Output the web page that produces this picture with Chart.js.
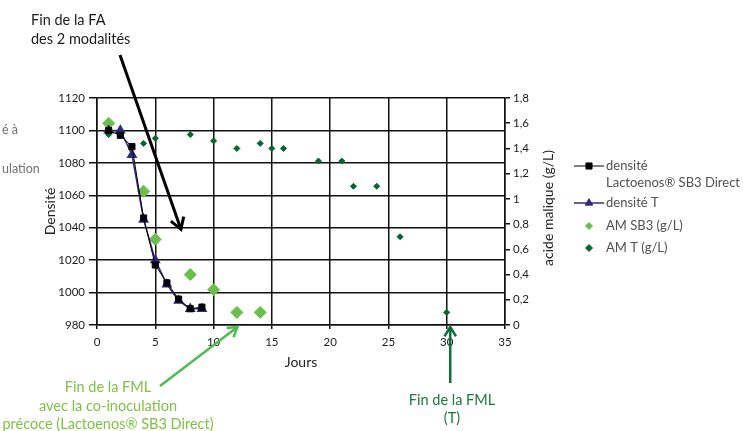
<!DOCTYPE html>
<html><head><meta charset="utf-8">
<script src="https://cdn.jsdelivr.net/npm/chart.js@4.4.0/dist/chart.umd.min.js"></script>
<style>html,body{margin:0;padding:0;background:#fff;overflow:hidden}#wrap{width:743px;height:431px;position:relative}</style>
</head><body><div id="wrap"><canvas id="c"></canvas></div>
<script>
// ---- data ----
const days = [1, 2, 3, 4, 5, 6, 7, 8, 9];
const densiteSB3 = [1100, 1097, 1090, 1046, 1017, 1006, 996, 990, 991];
const densiteT = [1100, 1100, 1085, 1045, 1020, 1005, 995, 990, 990];
const amSB3Days = [1, 4, 5, 8, 10, 12, 14];
const amSB3 = [1.60, 1.06, 0.68, 0.40, 0.28, 0.10, 0.10];
const amTDays = [1, 4, 5, 8, 10, 12, 14, 15, 16, 19, 21, 22, 24, 26, 30];
const amT = [1.51, 1.44, 1.48, 1.51, 1.46, 1.40, 1.44, 1.40, 1.40, 1.30, 1.30, 1.10, 1.10, 0.70, 0.10];
const seriesLabels = ['densité\nLactoenos® SB3 Direct', 'densité T', 'AM SB3 (g/L)', 'AM T (g/L)'];
const xRange = [0, 35, 5];
const densiteRange = [980, 1120, 20];
const maliqueRange = [0, 1.8, 0.2];
const axisTitles = {x: 'Jours', y: 'Densité', y2: 'acide malique (g/L)'};

const F = 'Lato, "Open Sans", sans-serif';
const pts = (xs, ys) => xs.map((x, i) => ({x: x, y: ys[i]}));

function arrow(ctx, x1, y1, x2, y2, color, w, head) {
  const a = Math.atan2(y2 - y1, x2 - x1);
  ctx.save();
  ctx.strokeStyle = color; ctx.lineWidth = w; ctx.lineCap = 'butt'; ctx.lineJoin = 'miter';
  ctx.beginPath(); ctx.moveTo(x1, y1); ctx.lineTo(x2, y2); ctx.stroke();
  ctx.beginPath();
  ctx.moveTo(x2 - head * Math.cos(a - 0.55), y2 - head * Math.sin(a - 0.55));
  ctx.lineTo(x2, y2);
  ctx.lineTo(x2 - head * Math.cos(a + 0.55), y2 - head * Math.sin(a + 0.55));
  ctx.stroke();
  ctx.restore();
}

function marker(ctx, style, x, y, r, color) {
  ctx.save();
  ctx.fillStyle = color; ctx.strokeStyle = color; ctx.lineWidth = 1;
  ctx.beginPath();
  if (style === 'rect') {
    const s = r * Math.SQRT1_2; ctx.rect(x - s, y - s, 2 * s, 2 * s);
  } else if (style === 'triangle') {
    const h = r * 1.5, sd = r * Math.sqrt(3);
    ctx.moveTo(x, y - r); ctx.lineTo(x + sd / 2, y - r + h); ctx.lineTo(x - sd / 2, y - r + h); ctx.closePath();
  } else {
    ctx.moveTo(x, y - r); ctx.lineTo(x + r, y); ctx.lineTo(x, y + r); ctx.lineTo(x - r, y); ctx.closePath();
  }
  ctx.fill(); ctx.stroke();
  ctx.restore();
}

const decorPlugin = {
  id: 'decor',
  afterDraw(chart) {
    const ctx = chart.ctx;
    const ds = chart.data.datasets;
    // legend
    const rows = [166, 203, 226, 248];
    const lx = 589;
    ctx.save();
    ctx.font = '13px ' + F; ctx.textBaseline = 'middle'; ctx.textAlign = 'left';
    ds.forEach((d, i) => {
      const y = rows[i];
      if (d.showLine) {
        ctx.strokeStyle = d.borderColor; ctx.lineWidth = d.borderWidth;
        ctx.beginPath(); ctx.moveTo(574, y); ctx.lineTo(604, y); ctx.stroke();
      }
      marker(ctx, d.pointStyle, lx, y, d.legendRadius, d.pointBackgroundColor);
      ctx.fillStyle = '#505050';
      d.label.split('\n').forEach((t, k) => ctx.fillText(t, 606, y + k * 17));
    });
    // right axis title (reads upward)
    ctx.save();
    ctx.translate(548, 208); ctx.rotate(-Math.PI / 2);
    ctx.textAlign = 'center'; ctx.fillStyle = '#222'; ctx.font = '14px ' + F;
    ctx.fillText(axisTitles.y2, 0, 0);
    ctx.restore();
    // annotations
    ctx.textAlign = 'left'; ctx.fillStyle = '#1a1a1a'; ctx.font = '14.5px ' + F;
    ctx.fillText('Fin de la FA', 31, 20);
    ctx.fillText('des 2 modalités', 31, 39);
    ctx.fillStyle = '#707070'; ctx.font = '12.5px ' + F;
    ctx.fillText('é à', 2, 130);
    ctx.fillText('ulation', 2, 169);
    ctx.textAlign = 'center'; ctx.font = '14.5px ' + F; ctx.fillStyle = '#7dc243';
    ctx.fillText('Fin de la FML', 108, 387);
    ctx.fillText('avec la co-inoculation', 108, 406);
    ctx.fillText('précoce (Lactoenos® SB3 Direct)', 108, 424);
    ctx.fillStyle = '#1a7a3c';
    ctx.fillText('Fin de la FML', 452, 400);
    ctx.fillText('(T)', 452, 418);
    ctx.restore();
    const xs = chart.scales.x, ys = chart.scales.y, b = chart.chartArea.bottom;
    arrow(ctx, 120, 55, xs.getPixelForValue(7.2), ys.getPixelForValue(1039), '#000', 3, 13);
    arrow(ctx, 160, 386, xs.getPixelForValue(12.05), b + 2, '#4dbb50', 2.5, 11);
    arrow(ctx, xs.getPixelForValue(30.3), 383, xs.getPixelForValue(30.3), b + 2, '#0f6e38', 2.5, 11);
  }
};

const tickFont = {family: F, size: 11.5};
const gridCol = '#111';

new Chart(document.getElementById('c'), {
  type: 'scatter',
  data: {
    datasets: [
      {label: seriesLabels[0], data: pts(days, densiteSB3), yAxisID: 'y', showLine: true,
       borderColor: '#000', borderWidth: 1, pointStyle: 'rect', pointRadius: 4.3,
       pointBackgroundColor: '#000', pointBorderColor: '#000', legendRadius: 4.3},
      {label: seriesLabels[1], data: pts(days, densiteT), yAxisID: 'y', showLine: true,
       borderColor: '#2f2c7e', borderWidth: 1.5, pointStyle: 'triangle', pointRadius: 4.8,
       pointBackgroundColor: '#2f2c7e', pointBorderColor: '#2f2c7e', legendRadius: 4.3},
      {label: seriesLabels[2], data: pts(amSB3Days, amSB3), yAxisID: 'y2', showLine: false,
       pointStyle: 'rectRot', pointRadius: 6, pointBackgroundColor: '#6abf4b',
       pointBorderColor: '#6abf4b', legendRadius: 3.5},
      {label: seriesLabels[3], data: pts(amTDays, amT), yAxisID: 'y2', showLine: false,
       pointStyle: 'rectRot', pointRadius: 3, pointBackgroundColor: '#05662f',
       pointBorderColor: '#05662f', legendRadius: 3.5}
    ]
  },
  options: {
    responsive: true, maintainAspectRatio: false, animation: false,
    layout: {padding: {top: 98, left: 0, right: 0, bottom: 0}},
    plugins: {legend: {display: false}, tooltip: {enabled: false}},
    scales: {
      x: {
        type: 'linear', position: 'bottom', min: xRange[0], max: xRange[1],
        ticks: {stepSize: xRange[2], color: '#1a1a1a', font: tickFont, padding: 6, maxRotation: 0,
          callback: v => String(v)},
        grid: {color: gridCol, lineWidth: 1.5, tickLength: 4, tickColor: gridCol},
        border: {color: gridCol, width: 1.5},
        title: {display: true, text: axisTitles.x, color: '#222', font: {family: F, size: 14}, padding: {top: 0, bottom: 60}},
        afterFit: s => { s.height = 106; }
      },
      y: {
        type: 'linear', position: 'left', min: densiteRange[0], max: densiteRange[1],
        ticks: {stepSize: densiteRange[2], color: '#1a1a1a', font: tickFont, padding: 4,
          callback: v => String(v)},
        grid: {color: gridCol, lineWidth: 1.5, tickLength: 8, tickColor: gridCol},
        border: {color: gridCol, width: 1.5},
        title: {display: true, text: axisTitles.y, color: '#222', font: {family: F, size: 14}, padding: {top: 42, bottom: 0}},
        afterFit: s => { s.width = 97; }
      },
      y2: {
        type: 'linear', position: 'right', min: maliqueRange[0], max: maliqueRange[1],
        ticks: {stepSize: maliqueRange[2], color: '#1a1a1a', font: tickFont, padding: 3,
          callback: v => String(Math.round(v * 10) / 10).replace('.', ',')},
        grid: {drawOnChartArea: false, tickLength: 5, tickColor: gridCol, lineWidth: 1.5},
        border: {color: gridCol, width: 1.5},
        afterFit: s => { s.width = 238; }
      }
    }
  },
  plugins: [decorPlugin]
});
</script>
</body></html>
